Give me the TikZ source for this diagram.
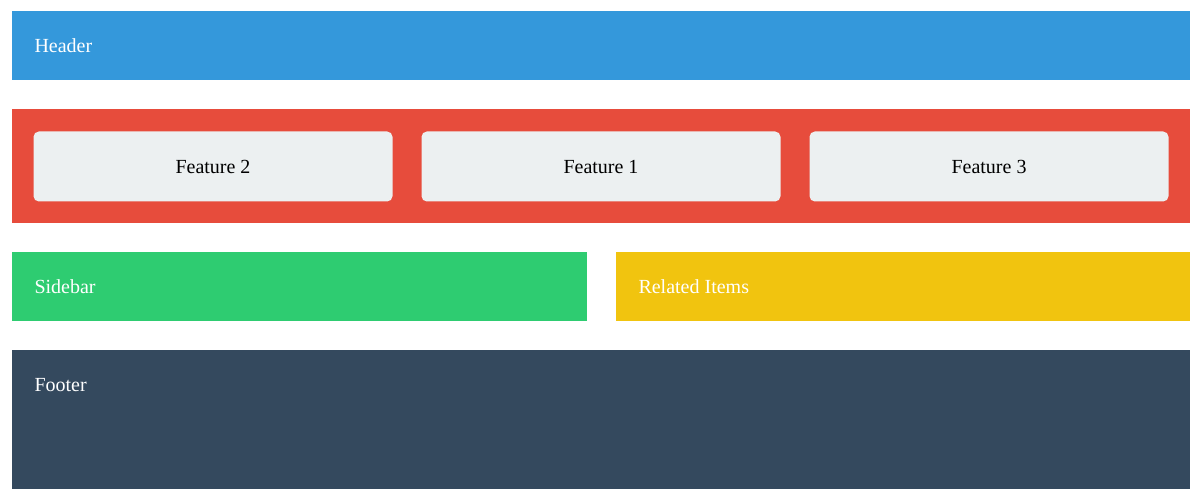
\documentclass[tikz,border=0pt]{standalone}
\usepackage{fontspec}
\setmainfont{Liberation Serif}
\definecolor{hdrblue}{RGB}{52,152,219}
\definecolor{featred}{RGB}{231,76,60}
\definecolor{cardgray}{RGB}{236,240,241}
\definecolor{sidegreen}{RGB}{46,204,113}
\definecolor{relyellow}{RGB}{241,196,15}
\definecolor{footnavy}{RGB}{52,73,94}
\tikzset{every picture/.style={line width=0.75pt}}
\tikzset{
  band/.style={draw=none, anchor=north west, inner sep=0pt},
  bandlabel/.style={anchor=west, inner sep=0.75pt, text=white, font=\fontsize{15}{18}\selectfont},
  card/.style={draw=none, fill=cardgray, rounded corners=4pt, anchor=north west, inner sep=0pt,
    minimum width=269.25pt, minimum height=52.5pt, font=\fontsize{15}{18}\selectfont}
}
\begin{document}
\begin{tikzpicture}[x=0.75pt,y=0.75pt,yscale=-1,xscale=1]
\useasboundingbox (0,0) rectangle (1200,502);

%Header
\node [band, fill=hdrblue, minimum width=883.5pt, minimum height=51.75pt] (header) at (11,11) {};
\node [bandlabel] (headertxt) at (33,46) {Header};

%Features band
\node [band, fill=featred, minimum width=883.5pt, minimum height=85.5pt] (features) at (11,109) {};
\node [card] (feat2) at (33,131) {Feature 2};
\node [card] (feat1) at (421,131) {Feature 1};
\node [card] (feat3) at (809,131) {Feature 3};

%Sidebar and related
\node [band, fill=sidegreen, minimum width=431.25pt, minimum height=51.75pt] (sidebar) at (11,252) {};
\node [bandlabel] (sidebartxt) at (33,287) {Sidebar};
\node [band, fill=relyellow, minimum width=430.5pt, minimum height=51.75pt] (related) at (615,252) {};
\node [bandlabel] (relatedtxt) at (637,287) {Related Items};

%Footer
\node [band, fill=footnavy, minimum width=883.5pt, minimum height=103.5pt] (footer) at (11,350) {};
\node [bandlabel] (footertxt) at (33,385) {Footer};

\end{tikzpicture}
\end{document}
